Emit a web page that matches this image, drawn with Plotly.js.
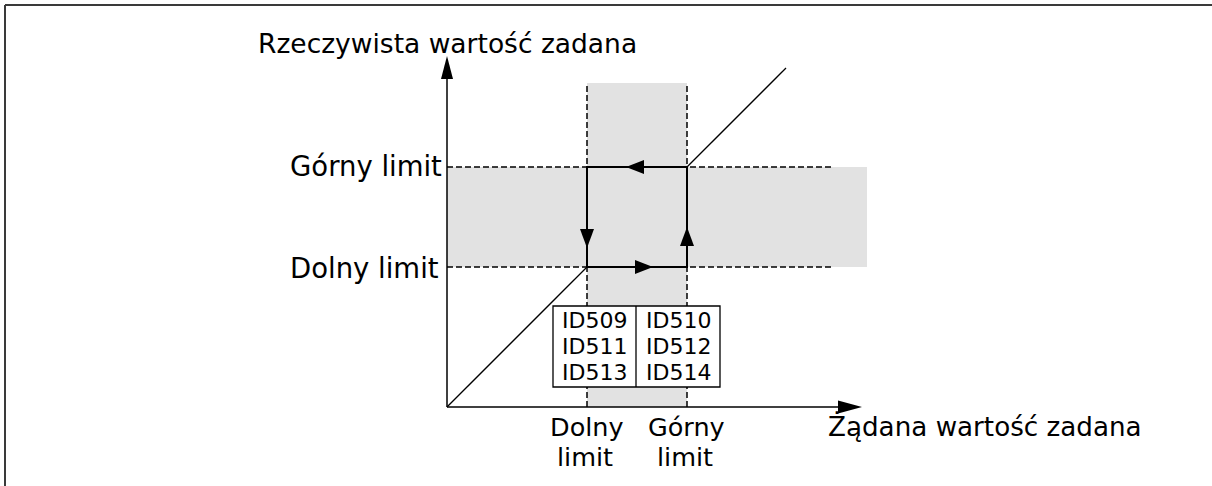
<!DOCTYPE html>
<html>
<head>
<meta charset="utf-8">
<script src="https://cdn.plot.ly/plotly-3.0.1.min.js"></script>
<style>html,body{margin:0;padding:0;background:#fff;}#chart{width:1212px;height:486px;}</style>
</head>
<body>
<div id="chart"></div>
<script>
// ---- data ----
const limitNames = ['Dolny limit', 'Górny limit'];
const limitValues = [1.4, 2.4];            // lower / upper limit (same on both axes)
const diagonalEnd = 3.39;                  // end of the 1:1 reference line
const xAxisTitle = 'Żądana wartość zadana';
const yAxisTitle = 'Rzeczywista wartość zadana';
const bottomLabelTop = ['Dolny', 'Górny'];
const bottomLabelBottom = ['limit', 'limit'];
const lowerIds = ['ID509', 'ID511', 'ID513'];
const upperIds = ['ID510', 'ID512', 'ID514'];

// ---- layout helpers ----
const lo = limitValues[0], hi = limitValues[1];
const FONT = 'DejaVu Sans, Verdana, sans-serif';
const GREY = '#e2e2e2';
const xMax = 4.15, yMax = 3.51;

function head(tx, ty, dx, dy, len, wid) {
  const bx = tx - dx * len, by = ty - dy * len;
  const px = -dy * wid / 2, py = dx * wid / 2;
  return {type: 'path', xref: 'x', yref: 'y', layer: 'above',
    path: `M${tx},${ty} L${bx + px},${by + py} L${bx - px},${by - py} Z`,
    fillcolor: '#000', line: {width: 0}};
}
function seg(x0, y0, x1, y1, opts) {
  return Object.assign({type: 'line', xref: 'x', yref: 'y', x0, y0, x1, y1, layer: 'above',
    line: {color: '#000', width: 1.3}}, opts || {});
}

const shapes = [];
// border of the figure
shapes.push({type: 'line', xref: 'paper', yref: 'paper', x0: 5 / 1212, x1: 5 / 1212, y0: 0, y1: 1 - 5 / 486, line: {color: '#3a3a3a', width: 2}});
shapes.push({type: 'line', xref: 'paper', yref: 'paper', x0: 5 / 1212, x1: 1, y0: 1 - 5 / 486, y1: 1 - 5 / 486, line: {color: '#3a3a3a', width: 2}});
// grey bands
shapes.push({type: 'rect', xref: 'x', yref: 'y', x0: lo, x1: hi, y0: 0, y1: 3.24, fillcolor: GREY, line: {width: 0}, layer: 'below'});
shapes.push({type: 'rect', xref: 'x', yref: 'y', x0: 0, x1: 4.20, y0: lo, y1: hi, fillcolor: GREY, line: {width: 0}, layer: 'below'});
// dashed guide lines
const dashStyle = {color: '#000', width: 1.5, dash: '6px,3px'};
limitValues.forEach(v => {
  shapes.push(seg(v, 0, v, 3.24, {line: dashStyle, layer: 'below'}));
  shapes.push(seg(0, v, 3.87, v, {line: dashStyle, layer: 'below'}));
});
// axes with arrows
shapes.push(seg(0, 0, xMax - 0.1, 0, {line: {color: '#000', width: 1.5}}));
shapes.push(head(xMax, 0, 1, 0, 0.24, 0.13));
shapes.push(seg(0, 0, 0, yMax - 0.1, {line: {color: '#000', width: 1.5}}));
shapes.push(head(0, yMax, 0, 1, 0.23, 0.12));
// arrows on the hysteresis loop
shapes.push(head(1.79, hi, -1, 0, 0.18, 0.14));
shapes.push(head(2.06, lo, 1, 0, 0.18, 0.14));
shapes.push(head(lo, 1.59, 0, -1, 0.19, 0.14));
shapes.push(head(hi, 1.80, 0, 1, 0.19, 0.14));
// parameter table
const tX0 = 1.06, tX1 = 2.73, tXm = 1.89, tY0 = 0.20, tY1 = 1.01;
shapes.push({type: 'rect', xref: 'x', yref: 'y', x0: tX0, x1: tX1, y0: tY0, y1: tY1, fillcolor: '#fff', line: {color: '#000', width: 1.3}, layer: 'above'});
shapes.push(seg(tXm, tY0, tXm, tY1));

const annotations = [];
const ann = (text, x, y, size, xanchor, yanchor) => annotations.push({text, x, y, xref: 'x', yref: 'y', showarrow: false,
  borderpad: 0, xanchor: xanchor || 'center', yanchor: yanchor || 'middle', font: {family: FONT, size, color: '#000'}});

ann(yAxisTitle, 0.005, 3.64, 26.5);
ann(xAxisTitle, 3.80, -0.19, 26.2, 'left');
ann(limitNames[1], -1.58, hi + 0.015, 27.5, 'left');
ann(limitNames[0], -1.58, lo - 0.005, 27.5, 'left');
limitValues.forEach((v, i) => {
  ann(bottomLabelTop[i], v - 0.005, -0.20, 25.5);
  ann(bottomLabelBottom[i], v - 0.02, -0.50, 25.5);
});
const rowY = [0.87, 0.61, 0.35];
lowerIds.forEach((t, i) => ann(t, (tX0 + tXm) / 2, rowY[i], 22));
upperIds.forEach((t, i) => ann(t, (tXm + tX1) / 2, rowY[i], 22));

const traces = [
  {x: [0, lo, null, hi, diagonalEnd], y: [0, lo, null, hi, diagonalEnd], mode: 'lines', line: {color: '#000', width: 1.3}, hoverinfo: 'skip', cliponaxis: false},
  {x: [lo, hi, hi, lo, lo], y: [lo, lo, hi, hi, lo], mode: 'lines', line: {color: '#000', width: 2}, hoverinfo: 'skip', cliponaxis: false}
];

const layout = {
  width: 1212, height: 486,
  margin: {l: 0, r: 0, t: 0, b: 0},
  paper_bgcolor: '#fff', plot_bgcolor: '#fff',
  showlegend: false,
  xaxis: {range: [-4.47, 7.65], visible: false, fixedrange: true},
  yaxis: {range: [-0.79, 4.07], visible: false, fixedrange: true},
  shapes, annotations
};
Plotly.newPlot('chart', traces, layout, {staticPlot: true, displayModeBar: false});
</script>
</body>
</html>
